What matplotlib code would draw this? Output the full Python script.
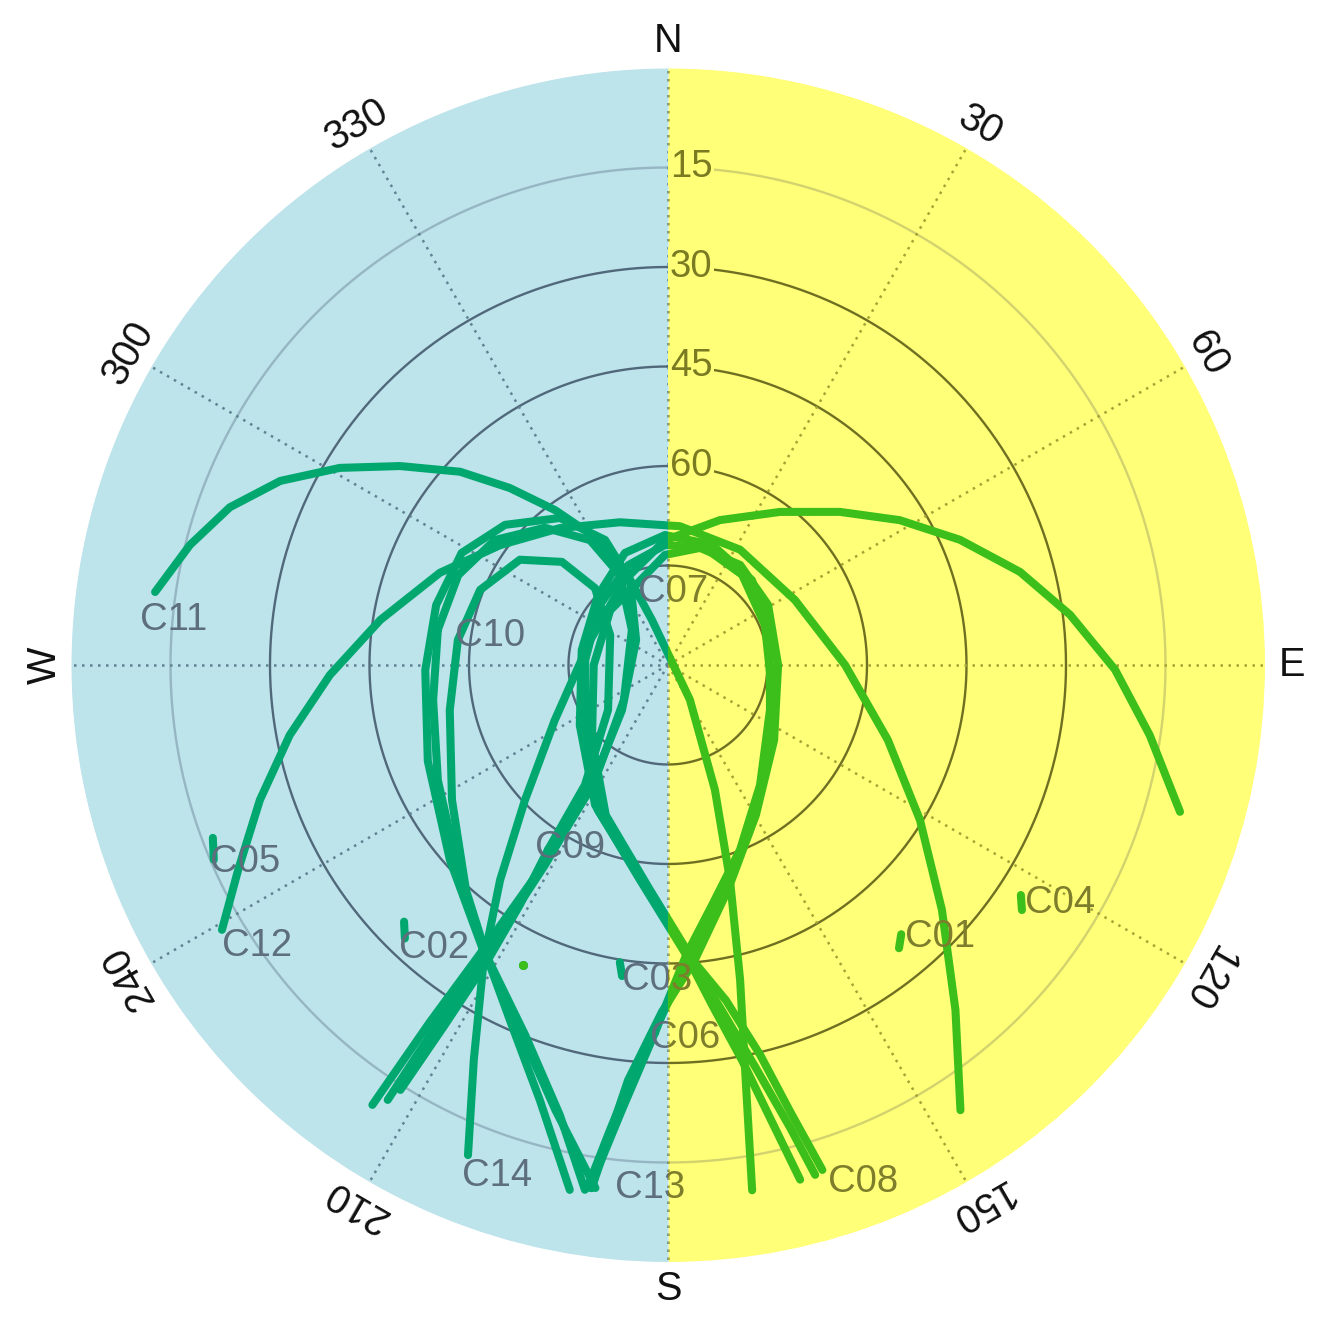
import numpy as np
import matplotlib.pyplot as plt
from matplotlib.transforms import Bbox, TransformedBbox

nan = np.nan

# BeiDou sky tracks: azimuth (deg, clockwise from N) and elevation (deg)
# GEO
c01_az = [140.8, 139.1]
c01_el = [34.9, 36.3]
c02_az = [225.8, 223.9]
c02_el = [34.5, 32.8]
c03_az = [189.2, 188.4]
c03_el = [44.6, 42.6]
c04_az = [123.1, 124.7]
c04_el = [26.5, 25.1]
c05_az = [249.2, 246.8]
c05_el = [16.6, 15.5]

# IGSO (nan = below horizon)
c06_az = [182.0, 180.0, 176.4, 169.6, 158.7, 142.5, 113.8, 73.6, 44.7, 20.1, 358.7, 339.0,
          315.0, 279.9, 235.7, 207.5, 187.4, 176.4, 172.6, 169.4, 167.3, 165.6, nan,
          188.5, 185.9, 182.0]
c06_el = [34.6, 39.5, 46.2, 53.2, 60.1, 67.2, 73.2, 74.0, 72.0, 70.7, 70.4, 71.9,
          75.1, 76.8, 73.9, 66.2, 57.3, 46.2, 38.3, 29.4, 20.0, 9.9, nan,
          10.3, 22.6, 34.6]
c07_az = [338.2, 313.5, 270.0, 225.4, 202.5, 184.6, 175.0, 170.2, 166.7, 164.7, 163.0, nan,
          188.3, 185.5, 181.0, 175.0, 165.1, 149.6, 125.3, 90.0, 59.0, 35.8, 15.3, 358.4, 338.2]
c07_el = [77.0, 78.0, 78.8, 73.9, 65.5, 56.0, 45.1, 38.7, 29.6, 20.2, 10.4, nan,
          10.3, 27.1, 37.7, 45.1, 54.9, 63.8, 70.4, 73.4, 72.4, 71.4, 71.7, 73.4, 77.0]
c08_az = [188.7, 187.1, 184.7, 181.0, 175.7, 166.8, 153.6, 133.8, 103.5, 67.6, 39.4, 17.5,
          358.6, 338.2, 311.4, 273.4, 231.9, 205.8, 186.0, 175.7, 170.8, 167.6, 165.2, 163.9]
c08_el = [10.7, 19.4, 28.7, 37.2, 45.7, 54.4, 62.2, 69.3, 73.9, 74.2, 72.4, 71.5,
          71.9, 73.8, 76.3, 77.5, 74.1, 65.7, 56.7, 45.7, 36.5, 27.5, 17.8, 10.0]
c09_az = [213.0, 214.7, 233.1, 297.3, 316.5, 314.2, 305.4, 291.8, 276.8, 258.3, 238.0, 221.9,
          211.4, 204.0, 196.4, 190.6, nan, 212.2, 211.8, 211.4, 211.7, 213.0]
c09_el = [56.8, 68.0, 78.7, 80.2, 74.0, 67.7, 62.6, 59.5, 58.1, 56.4, 51.6, 44.4,
          37.9, 31.4, 21.6, 9.5, nan, 14.3, 26.2, 37.9, 47.5, 56.8]
c10_az = [278.7, 261.5, 243.4, 225.7, 212.1, 201.1, 193.5, 189.0, nan,
          212.8, 212.7, 212.1, 211.6, 212.4, 231.5, 314.2, 331.9, 328.0, 318.1, 305.8, 293.2, 278.7]
c10_el = [54.9, 54.2, 51.2, 45.8, 38.4, 30.2, 20.2, 9.9, nan,
          12.0, 26.4, 38.4, 54.6, 69.5, 81.5, 82.4, 74.6, 67.8, 62.2, 57.8, 55.6, 54.9]
c13_az = [213.9, 213.7, 213.0, 212.0, 212.0, 225.6, 308.0, 335.9, 333.3, 323.7, 310.7, 298.5,
          284.5, 268.8, 248.2, 228.2, 213.0, 202.1, 194.2, 187.9]
c13_el = [10.1, 25.3, 38.8, 53.6, 67.8, 80.3, 83.9, 76.0, 68.9, 62.5, 57.6, 54.6,
          53.9, 53.4, 51.0, 45.9, 38.8, 30.6, 20.8, 10.4]

# MEO
c11_az = [170.9, 169.4, 167.1, 163.9, 159.4, 147.8, 340.4, 335.6, 330.3, 323.9, 318.2, 312.9,
          306.6, 301.0, 295.4, 289.8, 284.1, 278.1]
c11_el = [9.8, 26.3, 41.3, 56.3, 69.9, 83.8, 82.8, 74.3, 67.8, 61.1, 54.2, 47.2,
          39.7, 32.3, 25.3, 19.8, 15.7, 11.9]
c12_az = [146.7, 140.2, 131.8, 121.6, 108.8, 90.0, 62.9, 32.0, 4.9, 341.4, 321.7, 305.5,
          292.0, 278.9, 268.3, 259.5, 251.7, 244.5, 239.3]
c12_el = [9.7, 22.3, 34.6, 45.4, 55.0, 63.3, 68.5, 69.5, 69.0, 67.3, 63.7, 58.9,
          52.9, 46.1, 39.0, 32.0, 25.2, 18.2, 11.8]
c14_az = [106.0, 98.3, 90.6, 82.9, 75.2, 66.8, 58.0, 48.3, 36.2, 19.7, 358.6, 333.2,
          287.8, 244.0, 226.6, 218.0, 212.0, 206.2, 202.2]
c14_el = [9.7, 16.6, 22.6, 28.9, 35.1, 42.1, 48.8, 55.3, 61.4, 66.8, 71.2, 75.6,
          77.7, 71.0, 60.3, 48.9, 37.6, 23.7, 10.2]

# stray single observation
dot_az = [205.8]
dot_el = [39.8]

tracks = [
    ('C01', c01_az, c01_el), ('C02', c02_az, c02_el), ('C03', c03_az, c03_el),
    ('C04', c04_az, c04_el), ('C05', c05_az, c05_el), ('C06', c06_az, c06_el),
    ('C07', c07_az, c07_el), ('C08', c08_az, c08_el), ('C09', c09_az, c09_el),
    ('C10', c10_az, c10_el), ('C11', c11_az, c11_el), ('C12', c12_az, c12_el),
    ('C13', c13_az, c13_el), ('C14', c14_az, c14_el),
]

# label offset from last point (points)
label_offset = {
    'C01': (3, -2), 'C02': (-4, -7), 'C03': (0, -3), 'C04': (2, 5), 'C05': (-3, -1.5),
    'C06': (-4, -4), 'C07': (1.5, -5), 'C08': (9.5, -5), 'C09': (-9.5, 1.5),
    'C10': (12, -4.5), 'C11': (-11, -20), 'C12': (0, -11.5), 'C13': (14, 0), 'C14': (-4.5, -15),
}

ring_el = [15, 30, 45, 60, 75]
ring_labels = ['15', '30', '45', '60']
az_ticks = [0, 30, 60, 90, 120, 150, 180, 210, 240, 270, 300, 330]
az_labels = ['N', '30', '60', 'E', '120', '150', 'S', '210', '240', 'W', '300', '330']

left_bg = '#bde3eb'
right_bg = '#ffff78'
palettes = {
    'left': dict(ring='#50687a', ring15='#95b6c2', spoke='#5f8393', track='#00a870', text='#5d6e7c'),
    'right': dict(ring='#6f6f22', ring15='#d2d26e', spoke='#a3a336', track='#3cbf1a', text='#7d7d2c'),
}

fig = plt.figure(figsize=(13.34, 13.26), dpi=100)
ax = fig.add_axes([0.05322, 0.04827, 0.89505, 0.90045], projection='polar')
ax.set_theta_zero_location('N')
ax.set_theta_direction(-1)
ax.axis('off')

th_r = np.linspace(0, np.pi, 181)
th_l = np.linspace(np.pi, 2 * np.pi, 181)
ax.fill_between(th_r, 0, 90, color=right_bg, lw=0, zorder=0)
ax.fill_between(th_l, 0, 90, color=left_bg, lw=0, zorder=0)

boxes = {
    'left': TransformedBbox(Bbox([[-0.2, -0.2], [0.5, 1.2]]), ax.transAxes),
    'right': TransformedBbox(Bbox([[0.5, -0.2], [1.2, 1.2]]), ax.transAxes),
}

full = np.linspace(0, 2 * np.pi, 721)
for side, col in palettes.items():
    arts = []
    for el in ring_el:
        c = col['ring15'] if el == 15 else col['ring']
        arts += ax.plot(full, np.full_like(full, 90 - el), color=c, lw=1.7, zorder=2)
    for a in az_ticks:
        arts += ax.plot([np.radians(a)] * 2, [0, 90], color=col['spoke'], lw=1.8,
                        ls=(0, (1, 2.2)), zorder=2)
    for name, az, el in tracks:
        arts += ax.plot(np.radians(az), 90 - np.array(el), color=col['track'], lw=5.8,
                        solid_capstyle='round', solid_joinstyle='round', zorder=4)
    arts += ax.plot(np.radians(dot_az), 90 - np.array(dot_el), 'o', ms=5.5,
                    color=col['track'], zorder=4)
    for name, az, el in tracks:
        t = ax.annotate(name, (np.radians(az[-1]), 90 - el[-1]), xytext=label_offset[name],
                        textcoords='offset points', ha='left', va='center', fontsize=27.5,
                        family='Liberation Sans', color=col['text'], zorder=5)
        arts.append(t)
    for art in arts:
        art.set_clip_on(True)
        art.set_clip_box(boxes[side])

# elevation labels along the north spoke
for lab in ring_labels:
    ax.annotate(lab, (0, 90 - float(lab)), xytext=(1.2, 0), textcoords='offset points',
                ha='left', va='center', fontsize=27.5, family='Liberation Sans',
                color='#7a7a22', zorder=3,
                bbox=dict(boxstyle='square,pad=0.05', fc=right_bg, ec='none'))

# azimuth labels around the edge
for a, lab in zip(az_ticks, az_labels):
    if lab in ('N', 'E', 'S'):
        rot = 0
    elif lab == 'W':
        rot = 90
    else:
        rot = -a
    ax.text(np.radians(a), 94, lab, rotation=rot, rotation_mode='anchor',
            ha='center', va='center', fontsize=28.5, family='Liberation Sans',
            color='#111111', clip_on=False)

ax.set_ylim(0, 90)
fig.savefig('out.png', dpi=100)
